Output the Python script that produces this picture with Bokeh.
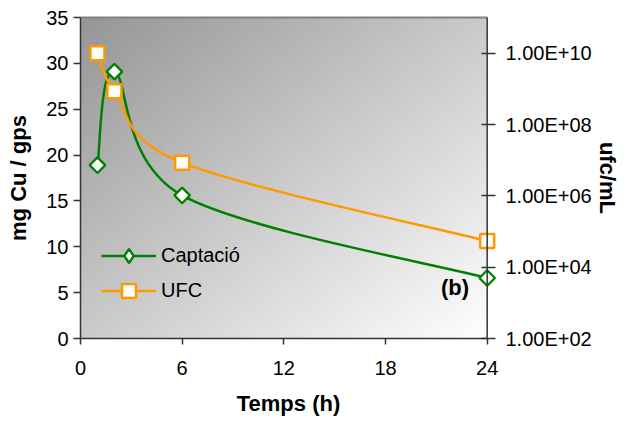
import numpy as np
from bokeh.plotting import figure
from bokeh.models import (Range1d, LogScale, LogAxis, LinearAxis, FixedTicker,
                          Legend, LegendItem, Label, Span)
from bokeh.embed import file_html
from bokeh.resources import INLINE

# ---- data ----
hours = [1, 2, 6, 24]
captacio = [18.9, 29.1, 15.6, 6.6]
ufc = [1.0e10, 8.5e8, 8.5e6, 5.4e4]

x_ticks = [0, 6, 12, 18, 24]
left_ticks = [0, 5, 10, 15, 20, 25, 30, 35]
right_ticks = [1e2, 1e4, 1e6, 1e8, 1e10]
right_tick_labels = ["1.00E+02", "1.00E+04", "1.00E+06", "1.00E+08", "1.00E+10"]

X_MAX = 24
X_PAD = 0.55          # frame extends a bit past x=24 so end markers are not clipped
GREEN = "#008000"
ORANGE = "#FF9900"
FONT = "Liberation Sans"
AXC = "#333333"


def smooth_segments(xs, ys):
    """Cubic bezier control points (Catmull-Rom style, like Excel smoothing)."""
    n = len(xs)
    P = [(float(a), float(b)) for a, b in zip(xs, ys)]
    out = dict(x0=[], y0=[], x1=[], y1=[], cx0=[], cy0=[], cx1=[], cy1=[])
    for i in range(n - 1):
        pm = P[i - 1] if i > 0 else P[i]
        p0 = P[i]
        p1 = P[i + 1]
        pp = P[i + 2] if i + 2 < n else P[i + 1]
        c0 = (p0[0] + (p1[0] - pm[0]) / 6.0, p0[1] + (p1[1] - pm[1]) / 6.0)
        c1 = (p1[0] - (pp[0] - p0[0]) / 6.0, p1[1] - (pp[1] - p0[1]) / 6.0)
        out["x0"].append(p0[0]); out["y0"].append(p0[1])
        out["x1"].append(p1[0]); out["y1"].append(p1[1])
        out["cx0"].append(c0[0]); out["cy0"].append(c0[1])
        out["cx1"].append(c1[0]); out["cy1"].append(c1[1])
    return out


p = figure(width=624, height=421, x_range=Range1d(0, X_MAX + X_PAD), y_range=Range1d(0, 35),
           output_backend="svg", toolbar_location=None,
           min_border_left=80, min_border_right=128, min_border_top=17,
           min_border_bottom=83)
p.extra_y_ranges = {"ufc": Range1d(1e2, 1e11)}
p.extra_y_scales = {"ufc": LogScale()}

p.xgrid.visible = False
p.ygrid.visible = False
p.background_fill_color = "white"
p.border_fill_color = "white"
p.outline_line_color = None

# gradient background (dark grey top-left -> white bottom-right)
ny, nx = 160, 200
u = np.linspace(0, 1, nx)[None, :]
v = 1 - np.linspace(0, 1, ny)[:, None]  # row 0 is bottom
t = (u + v) / 2.0
g = (150 + (255 - 150) * t).astype(np.uint8)
img = np.zeros((ny, nx), dtype=np.uint32)
view = img.view(dtype=np.uint8).reshape((ny, nx, 4))
view[:, :, 0] = g
view[:, :, 1] = g
view[:, :, 2] = g
view[:, :, 3] = 255
p.image_rgba(image=[img], x=0, y=0, dw=X_MAX, dh=35)

# right axis line at x = 24
p.add_layout(Span(location=X_MAX, dimension="height", line_color=AXC, line_width=1.5))

# Captació (left axis)
cap_seg = smooth_segments(hours, captacio)
cap_line = p.bezier(source=cap_seg, x0="x0", y0="y0", x1="x1", y1="y1",
                    cx0="cx0", cy0="cy0", cx1="cx1", cy1="cy1",
                    line_color=GREEN, line_width=2.5)
cap_pts = p.scatter(hours, captacio, marker="square", angle=np.pi / 4, size=11,
                    fill_color="white", line_color=GREEN, line_width=2.3)
# legend-only marker (no visible point)
cap_leg = p.scatter(x=hours[:1], y=[np.nan], marker="diamond",
                    fill_color="white", line_color=GREEN, line_width=2.3)

# UFC (right log axis): smooth in log space
lg = smooth_segments(hours, np.log10(ufc))
ufc_seg = dict(x0=lg["x0"], x1=lg["x1"], cx0=lg["cx0"], cx1=lg["cx1"],
               y0=list(10 ** np.array(lg["y0"])), y1=list(10 ** np.array(lg["y1"])),
               cy0=list(10 ** np.array(lg["cy0"])), cy1=list(10 ** np.array(lg["cy1"])))
ufc_line = p.bezier(source=ufc_seg, x0="x0", y0="y0", x1="x1", y1="y1",
                    cx0="cx0", cy0="cy0", cx1="cx1", cy1="cy1",
                    line_color=ORANGE, line_width=2.5, y_range_name="ufc")
ufc_pts = p.scatter(hours, ufc, marker="square", size=14, fill_color="white",
                    line_color=ORANGE, line_width=2.5, y_range_name="ufc")

# axes
for ax in (p.xaxis[0], p.yaxis[0]):
    ax.axis_line_color = AXC
    ax.axis_line_width = 1.5
    ax.major_tick_line_color = AXC
    ax.major_tick_line_width = 1.5
    ax.minor_tick_line_color = None
    ax.major_label_text_font = FONT
    ax.major_label_text_font_size = "20px"
    ax.major_label_text_color = "black"
    ax.axis_label_text_font = FONT
    ax.axis_label_text_font_size = "22px"
    ax.axis_label_text_font_style = "bold"
    ax.axis_label_text_color = "black"

p.xaxis[0].ticker = FixedTicker(ticks=x_ticks)
p.xaxis[0].bounds = (0, X_MAX)
p.xaxis[0].axis_label = "Temps (h)"
p.xaxis[0].major_tick_in = 0
p.xaxis[0].major_tick_out = 6
p.xaxis[0].major_label_standoff = 16
p.xaxis[0].axis_label_standoff = 13

p.yaxis[0].ticker = FixedTicker(ticks=left_ticks)
p.yaxis[0].axis_label = "mg Cu / gps"
p.yaxis[0].major_tick_in = 0
p.yaxis[0].major_tick_out = 7
p.yaxis[0].major_label_standoff = 5
p.yaxis[0].axis_label_standoff = 12

# top border line of the plot area
top = LinearAxis(ticker=FixedTicker(ticks=[]), bounds=(0, X_MAX),
                 axis_line_color="#808080", axis_line_width=2,
                 major_tick_line_color=None, minor_tick_line_color=None)
p.add_layout(top, "above")

# right log axis: its own line hidden (drawn by the span at x=24); ticks reach back to x=24
rax = LogAxis(y_range_name="ufc", ticker=FixedTicker(ticks=right_ticks),
              major_label_overrides=dict(zip(right_ticks, right_tick_labels)),
              axis_label="ufc/mL")
rax.axis_line_color = None
rax.major_tick_line_color = AXC
rax.major_tick_line_width = 1.5
rax.minor_tick_line_color = None
rax.major_tick_in = 15
rax.major_tick_out = -1
rax.major_label_standoff = 9
rax.major_label_text_font = FONT
rax.major_label_text_font_size = "20px"
rax.major_label_text_color = "black"
rax.axis_label_text_font = FONT
rax.axis_label_text_font_size = "22px"
rax.axis_label_text_font_style = "bold"
rax.axis_label_text_color = "black"
rax.axis_label_standoff = 0
p.add_layout(rax, "right")

legend = Legend(items=[LegendItem(label="Captació", renderers=[cap_line, cap_leg]),
                       LegendItem(label="UFC", renderers=[ufc_line, ufc_pts])],
                location=(21, 30), border_line_color=None, background_fill_alpha=0,
                padding=0, margin=0, spacing=0, glyph_width=55, glyph_height=35,
                label_height=35, label_standoff=5, label_text_font=FONT,
                label_text_font_size="20px", label_text_color="black")
p.add_layout(legend)

p.add_layout(Label(x=22.1, y=5.6, text="(b)", text_align="center",
                   text_baseline="middle", text_font=FONT, text_font_size="22px",
                   text_font_style="bold", text_color="black"))

open("out.html", "w").write(file_html(p, INLINE))
